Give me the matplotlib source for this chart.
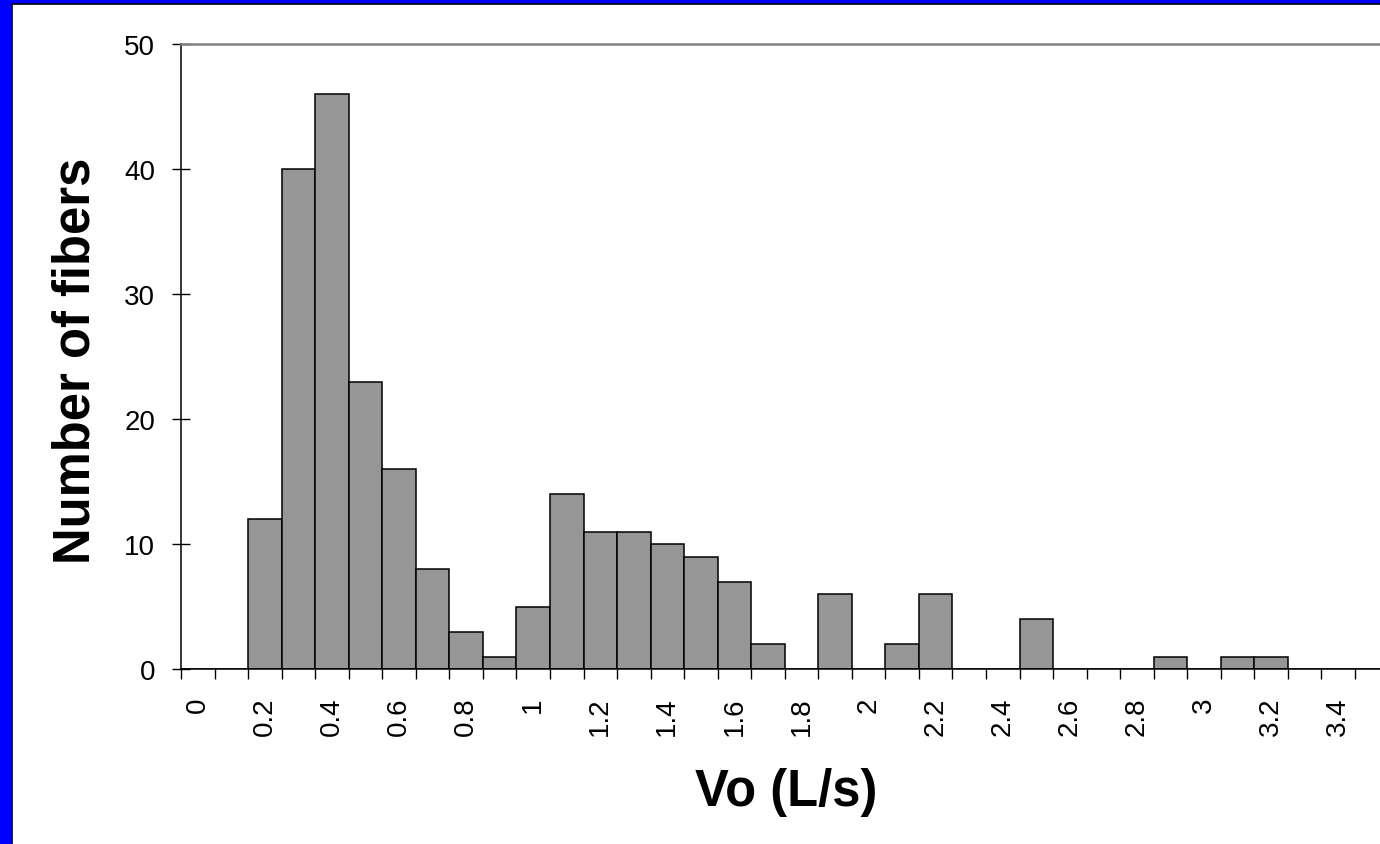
"""Histogram of Vo (L/s) across fibers, Excel-style category bars."""
import matplotlib

matplotlib.use("Agg")
import matplotlib.pyplot as plt
from matplotlib.patches import Rectangle

plt.rcParams.update({
    "font.family": ["Liberation Sans", "DejaVu Sans"],
    "font.size": 20,
})

# bin centres (L/s) and counts
bins = [0.0, 0.1, 0.2, 0.3, 0.4, 0.5, 0.6, 0.7, 0.8, 0.9,
        1.0, 1.1, 1.2, 1.3, 1.4, 1.5, 1.6, 1.7, 1.8, 1.9,
        2.0, 2.1, 2.2, 2.3, 2.4, 2.5, 2.6, 2.7, 2.8, 2.9,
        3.0, 3.1, 3.2, 3.3, 3.4, 3.5]
counts = [0, 0, 12, 40, 46, 23, 16, 8, 3, 1,
          5, 14, 11, 11, 10, 9, 7, 2, 0, 6,
          0, 2, 6, 0, 0, 4, 0, 0, 0, 1,
          0, 1, 1, 0, 0, 0]
tick_labels = ["0", "0.2", "0.4", "0.6", "0.8", "1", "1.2", "1.4", "1.6", "1.8",
               "2", "2.2", "2.4", "2.6", "2.8", "3", "3.2", "3.4"]

W, H = 1380, 845
fig = plt.figure(figsize=(W / 100, H / 100), dpi=100)
fig.patch.set_facecolor("#0000FF")
fig.add_artist(Rectangle((11.5 / W, -0.1), 1.2, 1.1 - 4.5 / H,
                         transform=fig.transFigure, facecolor="white",
                         edgecolor="black", linewidth=1.2, zorder=-1))

ax = fig.add_axes([181 / W, 1 - 670 / H, 1207.5 / W, 625 / H])
x = list(range(len(bins)))
ax.bar(x, counts, width=1.0, color="#969696", edgecolor="black", linewidth=1.1,
       zorder=2)

ax.set_xlim(-0.5, len(bins) - 0.5)
ax.set_ylim(0, 50)
ax.set_yticks(range(0, 51, 10))

# labels on every other bin centre, tick marks on bin boundaries
ax.set_xticks(x[::2])
ax.set_xticklabels(tick_labels, rotation=90, va="top")
ax.set_xticks([i - 0.5 for i in range(len(bins) + 1)], minor=True)
ax.tick_params(axis="x", which="major", length=0, pad=20, labelsize=20)
ax.tick_params(axis="x", which="minor", direction="out", length=7.2, width=1.0)
ax.tick_params(axis="y", direction="inout", length=13, width=1.0, pad=12,
               labelsize=20)

for s in ("left", "bottom"):
    ax.spines[s].set_linewidth(1.1)
ax.spines["top"].set_color("#808080")
ax.spines["top"].set_linewidth(1.8)
ax.spines["right"].set_visible(False)

ax.set_xlabel("Vo (L/s)", fontsize=36.5, fontweight="bold")
ax.xaxis.set_label_coords((786 - 181) / 1207.5, (670 - 768) / 625)
ax.set_ylabel("Number of fibers", fontsize=36.5, fontweight="bold")
ax.yaxis.set_label_coords((101 - 181) / 1207.5, (670 - 361) / 625)

fig.savefig("out.png", dpi=100, facecolor=fig.get_facecolor())
